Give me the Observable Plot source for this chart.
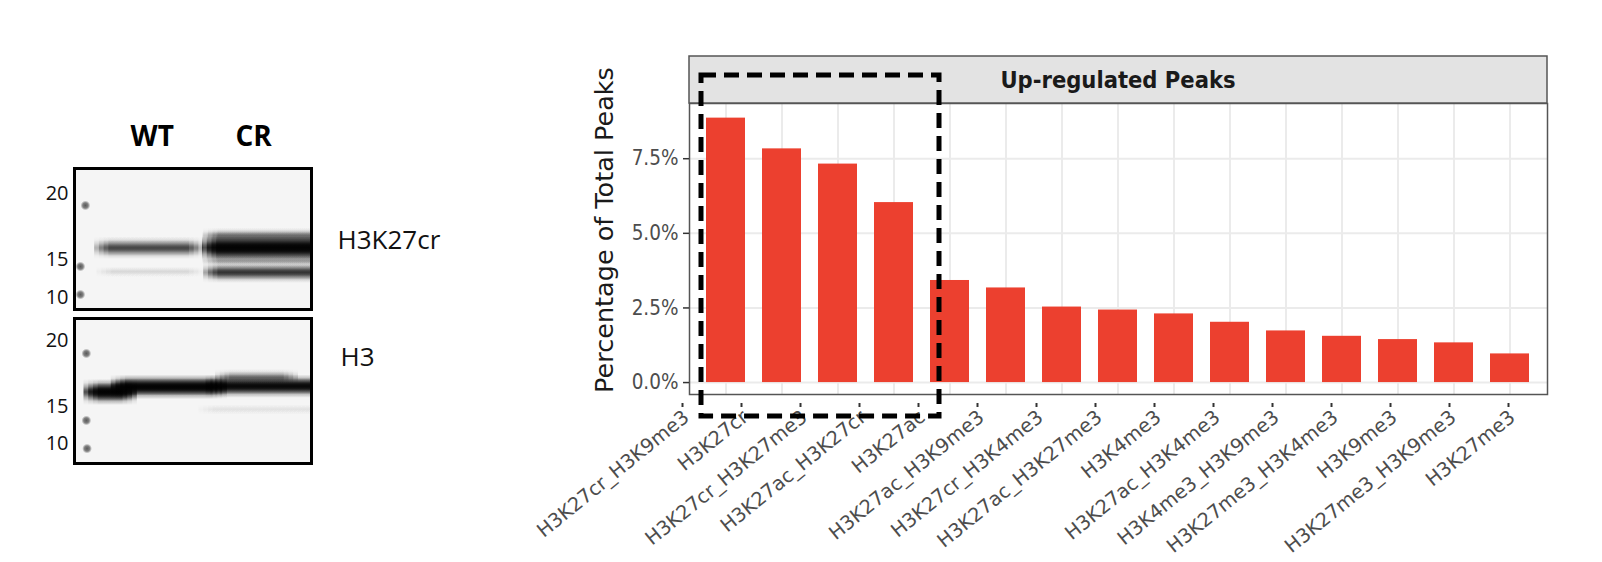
<!DOCTYPE html>
<html><head><meta charset="utf-8">
<script src="https://cdn.jsdelivr.net/npm/d3@7"></script>
<script src="https://cdn.jsdelivr.net/npm/@observablehq/plot@0.6"></script>
<style>
html,body{margin:0;padding:0;background:#fff;}
#root{position:relative;width:1602px;height:562px;overflow:hidden;background:#fff;}
#root > svg{position:absolute;}
.chart text{font-family:"DejaVu Sans",sans-serif;font-stretch:condensed;}
.chart g[aria-label="text"] text{font-stretch:normal;}
.chart g[aria-label="y-axis tick label"]{fill:#4d4d4d;}
.chart g[aria-label="y-axis tick"]{stroke:#333;}
.xaxis text{font-family:"DejaVu Sans",sans-serif;}
.xaxis g[aria-label="x-axis tick label"]{fill:#4d4d4d;}
.xaxis g[aria-label="x-axis tick"]{stroke:#333;}
.blot text{font-family:"Open Sans",sans-serif;}
</style></head><body><div id="root"></div>
<script>
// ---------- bar chart data ----------
const categories = [
  "H3K27cr_H3K9me3","H3K27cr","H3K27cr_H3K27me3","H3K27ac_H3K27cr","H3K27ac",
  "H3K27ac_H3K9me3","H3K27cr_H3K4me3","H3K27ac_H3K27me3","H3K4me3","H3K27ac_H3K4me3",
  "H3K4me3_H3K9me3","H3K27me3_H3K4me3","H3K9me3","H3K27me3_H3K9me3","H3K27me3"
];
const percentValues = [8.86, 7.83, 7.32, 6.03, 3.42, 3.17, 2.53, 2.43, 2.30, 2.02, 1.73, 1.55, 1.44, 1.33, 0.96];
const yTicks = [0, 2.5, 5, 7.5];
const panelTitle = "Up-regulated Peaks";
const yTitle = "Percentage of Total Peaks";
const highlightCount = 4;

// ---------- western blot data (x, y in % of membrane width / height) ----------
const laneNames = ["WT", "CR"];
const laneCenters = [32.8, 75.6];
const blotTargets = ["H3K27cr", "H3"];
const targetLabelPos = [51, 26.7];
const ladderLabels = ["20", "15", "10"];
const ladderLabelPos = [[17.7, 64.5, 91.3], [15.2, 60.7, 86]];
const ladderSpotX = [[4.6, 2.5, 2.5], [5.0, 5.0, 5.3]];
const ladderSpotPos = [[26.2, 69.5, 89.4], [24.1, 70.3, 89.7]];
const bandMembrane = [0, 0, 0, 0, 0, 0, 1, 1, 1, 1, 1];
const bandFrom     = [11, 12, 56.5, 57, 57, 57, 6.5, 18, 58, 62, 55];
const bandTo       = [52, 52, 100, 100, 100, 100, 24, 62, 100, 92, 100];
const bandPos      = [56.7, 73.5, 56.5, 48, 74, 66, 51, 47.5, 47, 41, 63];
const bandThick    = [16, 9, 23, 12, 15, 9, 18, 17, 16, 12, 9];
const bandIntensity= [0.72, 0.12, 1, 0.45, 0.8, 0.28, 1, 1, 0.97, 0.5, 0.08];

const root = document.getElementById("root");
function place(el, left, top, cls) {
  el.style.position = "absolute";
  el.style.left = left + "px";
  el.style.top = top + "px";
  el.classList.add(cls);
  root.appendChild(el);
}

// ---------- western blot ----------
const bands = bandMembrane.map((m, i) => ({m, from: bandFrom[i], to: bandTo[i], pos: bandPos[i], thick: bandThick[i], intensity: bandIntensity[i]}));
// soft band ends: each band is drawn as a few stacked, slightly inset translucent layers
const layerInsets = [-2.5, -0.5, 1.5, 3.5];
function bandLayers(bs) {
  const out = [];
  for (const b of bs) {
    const I = Math.min(b.intensity, 0.99);
    const a = 1 - Math.pow(1 - I, 1 / layerInsets.length);
    for (const o of layerInsets) {
      out.push({
        x1: Math.max(0, b.from + o),
        x2: b.to >= 100 ? 100 : b.to - o,
        y1: b.pos - b.thick / 2,
        y2: b.pos + b.thick / 2,
        a
      });
    }
  }
  return out;
}
function blotPlot(k, layout) {
  const myBands = bandLayers(bands.filter(b => b.m === k));
  const spots = ladderSpotX[k].map((x, i) => ({x, y: ladderSpotPos[k][i]}));
  const ladder = ladderLabels.map((label, i) => ({label, pos: ladderLabelPos[k][i]}));
  const marks = [
    Plot.frame({fill: "#f5f5f5", stroke: null}),
    Plot.rect(myBands, {x1: "x1", x2: "x2", y1: "y1", y2: "y2", fill: "black", fillOpacity: "a"}),
    Plot.dot(spots, {x: "x", y: "y", symbol: "square", r: 5.5, fill: "black", stroke: null}),
    Plot.frame({stroke: "#000", strokeWidth: 3}),
    Plot.text(ladder, {frameAnchor: "left", y: "pos", text: "label", textAnchor: "end", dx: -6, fontSize: 20, fill: "#111"}),
    Plot.text([blotTargets[k]], {frameAnchor: "right", y: () => targetLabelPos[k], text: d => d, textAnchor: "start", dx: layout.labelDx, fontSize: 26, fill: "#111"})
  ];
  if (k === 0) {
    marks.push(Plot.text(laneNames, {x: (d, i) => laneCenters[i], frameAnchor: "top", dy: -42, text: d => d, fontSize: 28, fontWeight: "bold", fill: "#000"}));
  }
  const p = Plot.plot({
    width: 480, height: layout.height,
    marginLeft: 74, marginRight: 169, marginTop: layout.mt, marginBottom: layout.mb,
    style: {background: "transparent", overflow: "visible"},
    x: {domain: [0, 100], axis: null},
    y: {domain: [0, 100], reverse: true, axis: null},
    opacity: {domain: [0, 1], range: [0, 1]},
    marks
  });
  const svg = d3.select(p);
  const defs = svg.insert("defs", ":first-child");
  const lg = defs.append("linearGradient").attr("id", "bandGrad" + k)
    .attr("x1", 0).attr("y1", 0).attr("x2", 0).attr("y2", 1);
  [[0, 0], [0.15, 0.1], [0.3, 0.45], [0.42, 0.85], [0.5, 1], [0.58, 0.85], [0.7, 0.45], [0.85, 0.1], [1, 0]].forEach(([o, op]) =>
    lg.append("stop").attr("offset", o).attr("stop-color", "#000").attr("stop-opacity", op));
  const rg = defs.append("radialGradient").attr("id", "spotGrad" + k);
  [[0, 0.8], [0.55, 0.6], [1, 0]].forEach(([o, op]) =>
    rg.append("stop").attr("offset", o).attr("stop-color", "#333").attr("stop-opacity", op));
  svg.selectAll('g[aria-label="rect"]').attr("fill", `url(#bandGrad${k})`);
  svg.selectAll('g[aria-label="rect"] rect').attr("fill", null);
  svg.selectAll('g[aria-label="dot"]').attr("fill", `url(#spotGrad${k})`);
  svg.selectAll('g[aria-label="dot"] path').attr("fill", null);
  return p;
}
place(blotPlot(0, {height: 223, mt: 78, mb: 4, labelDx: 26}), 0, 90, "blot");
place(blotPlot(1, {height: 160, mt: 8, mb: 7, labelDx: 29}), 0, 310, "blot");

// ---------- x axis labels (drawn underneath) ----------
const xAxisPlot = Plot.plot({
  width: 1602, height: 167,
  marginTop: 0, marginBottom: 159, marginLeft: 0, marginRight: 0,
  style: {background: "transparent", overflow: "visible"},
  x: {type: "point", domain: categories, range: [681, 1509], padding: 0},
  marks: [
    Plot.axisX({anchor: "bottom", tickSize: 4, tickFormat: () => "", strokeWidth: 2, label: null}),
    Plot.axisX({anchor: "bottom", tickSize: 0, tickPadding: 11, tickRotate: -39, textAnchor: "end", dx: 4, fontSize: 19.5, label: null})
  ]
});
place(xAxisPlot, 0, 395, "xaxis");

// ---------- bar chart ----------
const barData = categories.map((name, i) => ({name, value: percentValues[i]}));
const chart = Plot.plot({
  width: 1062, height: 420,
  marginLeft: 149, marginRight: 55, marginTop: 103, marginBottom: 26,
  style: {background: "transparent", overflow: "visible"},
  x: {type: "band", domain: categories, paddingInner: 0.3, paddingOuter: 0.25, axis: null},
  y: {domain: [-0.4, 9.35], axis: null},
  marks: [
    Plot.gridY(yTicks, {stroke: "#ebebeb", strokeOpacity: 1, strokeWidth: 2}),
    Plot.gridX(categories, {stroke: "#ebebeb", strokeOpacity: 1, strokeWidth: 2}),
    Plot.barY(barData, {x: "name", y: "value", fill: "#ec402f"}),
    Plot.frame({stroke: "#555", strokeWidth: 1.5}),
    Plot.axisY(yTicks, {tickSize: 6, tickPadding: 5, tickFormat: d => d.toFixed(1) + "%", fontSize: 20.5, strokeWidth: 1.5, label: null}),
    Plot.text([yTitle], {frameAnchor: "left", text: d => d, textAnchor: "middle", dx: -85, dy: -19, rotate: -90, fontSize: 25.5, fill: "#1a1a1a"})
  ]
});
{
  const svg = d3.select(chart);
  const xs = chart.scale("x"), ys = chart.scale("y");
  const [fx0, fx1] = xs.range;
  const frameTop = ys.apply(ys.domain[1]);
  const stripH = 47;
  const g = svg.append("g");
  g.append("rect").attr("x", fx0).attr("y", frameTop - stripH).attr("width", fx1 - fx0).attr("height", stripH)
    .attr("fill", "#e3e3e3").attr("stroke", "#555").attr("stroke-width", 1.5);
  g.append("text").attr("x", (fx0 + fx1) / 2).attr("y", frameTop - stripH / 2)
    .attr("text-anchor", "middle").attr("dominant-baseline", "central")
    .attr("font-weight", "bold").attr("font-size", 23.5).attr("fill", "#1a1a1a").text(panelTitle);
  // dashed highlight box around the leading categories
  const bx0 = xs.apply(categories[0]) - 5;
  const bx1 = xs.apply(categories[highlightCount]) + 9;
  const by0 = frameTop - 28;
  const by1 = ys.apply(0) + 34;
  svg.append("rect").attr("x", bx0).attr("y", by0).attr("width", bx1 - bx0).attr("height", by1 - by0)
    .attr("fill", "none").attr("stroke", "#000").attr("stroke-width", 5).attr("stroke-dasharray", "15 8");
}
place(chart, 540, 0, "chart");
</script></body></html>
